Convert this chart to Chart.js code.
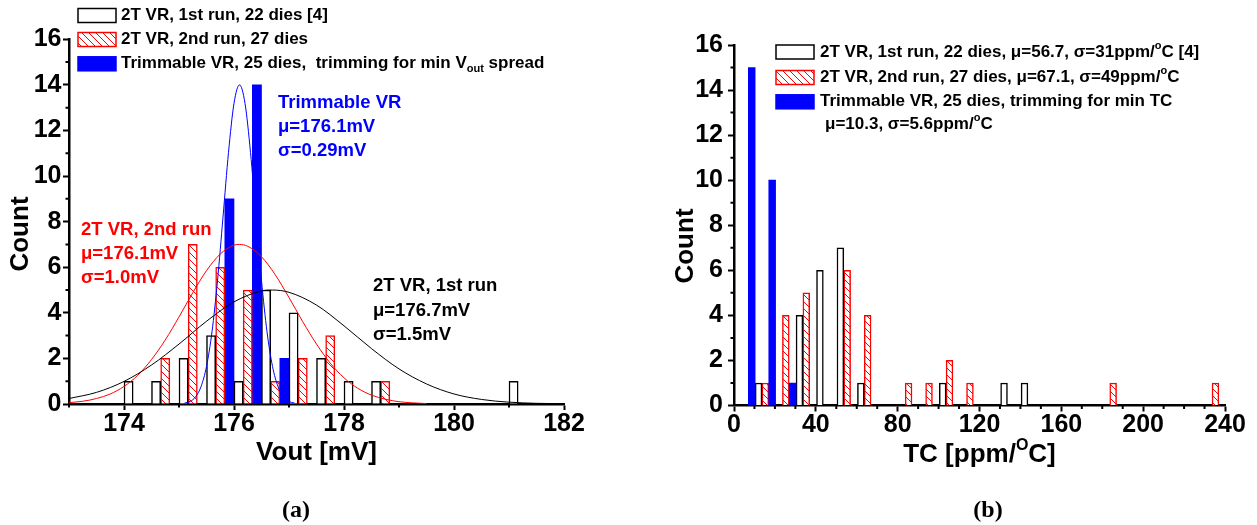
<!DOCTYPE html>
<html>
<head>
<meta charset="utf-8">
<title>Vout and TC histograms</title>
<script src="https://cdn.jsdelivr.net/npm/chart.js@4.4.1/dist/chart.umd.min.js"></script>
<style>
  html, body { margin: 0; padding: 0; background: #fff; }
  #wrap { position: relative; width: 1257px; height: 525px; }
  canvas { position: absolute; top: 0; }
  #chartA { left: 0; }
  #chartB { left: 628px; }
</style>
</head>
<body>
<div id="wrap">
  <canvas id="chartA" width="628" height="525"></canvas>
  <canvas id="chartB" width="629" height="525"></canvas>
</div>
<script>
// (a) Vout histogram, bin centres in mV (0.5 mV bins)
const voutBins = [174.25, 174.75, 175.25, 175.75, 176.25, 176.75, 177.25, 177.75, 178.25, 178.75, 179.25, 179.75, 180.25, 180.75, 181.25];
const voutRun1 = [1, 1, 2, 3, 1, 5, 4, 2, 1, 1, 0, 0, 0, 0, 1];
const voutRun2 = [0, 2, 7, 6, 5, 1, 2, 3, 0, 1, 0, 0, 0, 0, 0];
const voutTrim = [0, 0, 0, 9, 14, 2, 0, 0, 0, 0, 0, 0, 0, 0, 0];

// fitted normal curves
const fit1X = [173, 173.5, 174, 174.5, 175, 175.5, 176, 176.5, 176.7, 177, 177.5, 178, 178.5, 179, 179.5, 180, 180.5, 181, 181.5, 182];
const fit1Y = [0.24, 0.51, 0.99, 1.71, 2.63, 3.63, 4.48, 4.96, 5.00, 4.90, 4.34, 3.43, 2.43, 1.54, 0.88, 0.44, 0.20, 0.08, 0.03, 0.01];
const fit2X = [173, 173.25, 173.5, 173.75, 174, 174.25, 174.5, 174.75, 175, 175.25, 175.5, 175.75, 176, 176.1, 176.25, 176.5, 176.75, 177, 177.25, 177.5, 177.75, 178, 178.25, 178.5, 178.75, 179, 179.25, 179.5];
const fit2Y = [0.06, 0.12, 0.24, 0.44, 0.77, 1.26, 1.95, 2.81, 3.82, 4.88, 5.85, 6.58, 6.97, 7.00, 6.92, 6.46, 5.67, 4.67, 3.61, 2.63, 1.79, 1.15, 0.69, 0.39, 0.21, 0.10, 0.05, 0.02];
const fit3X = [175.1, 175.2, 175.3, 175.4, 175.5, 175.6, 175.7, 175.8, 175.9, 176.0, 176.1, 176.2, 176.3, 176.4, 176.5, 176.6, 176.7, 176.8, 176.9, 177.0, 177.1];
const fit3Y = [0.04, 0.11, 0.31, 0.76, 1.65, 3.17, 5.41, 8.20, 11.04, 13.19, 14.00, 13.19, 11.04, 8.20, 5.41, 3.17, 1.65, 0.76, 0.31, 0.11, 0.04];

// (b) TC histogram, bin centres in ppm/C (10 ppm bins)
const tcBins = [12, 22, 32, 42, 52, 62, 72, 82, 92, 102, 112, 122, 132, 142, 152, 162, 172, 182, 192, 202, 212, 222, 232];
const tcRun1 = [1, 0, 4, 6, 7, 1, 0, 0, 0, 1, 0, 0, 1, 1, 0, 0, 0, 0, 0, 0, 0, 0, 0];
const tcRun2 = [1, 4, 5, 0, 6, 4, 0, 1, 1, 2, 1, 0, 0, 0, 0, 0, 0, 1, 0, 0, 0, 0, 1];
const tcTrim = [15, 10, 1, 0, 0, 0, 0, 0, 0, 0, 0, 0, 0, 0, 0, 0, 0, 0, 0, 0, 0, 0, 0];

// tick labels and minor ticks
const voutTicks = [174, 176, 178, 180, 182];
const voutMinor = [173, 175, 177, 179, 181];
const tcTicks = [0, 40, 80, 120, 160, 200, 240];
const tcMinor = [10, 20, 30, 50, 60, 70, 90, 100, 110, 130, 140, 150, 170, 180, 190, 210, 220, 230];
const countTicks = [0, 2, 4, 6, 8, 10, 12, 14, 16];
const countMinor = [1, 3, 5, 7, 9, 11, 13, 15];

const BLUE = '#0000ff';
const RED = '#ff0000';
const SANS = '"Liberation Sans", Arial, sans-serif';
const bold = px => 'bold ' + px + 'px ' + SANS;

Chart.defaults.font.family = SANS;
Chart.defaults.color = '#000';

// red diagonal hatch for the 2nd run bars
function makeHatch(color) {
    const c = document.createElement('canvas');
    c.width = 7; c.height = 7;
    const g = c.getContext('2d');
    g.fillStyle = '#fff';
    g.fillRect(0, 0, 7, 7);
    g.strokeStyle = color;
    g.lineWidth = 1;
    g.beginPath();
    g.moveTo(-1, -1); g.lineTo(8, 8);
    g.moveTo(6, -1); g.lineTo(8, 1);
    g.moveTo(-1, 6); g.lineTo(1, 8);
    g.stroke();
    return g.createPattern(c, 'repeat');
}
const hatch = makeHatch(RED);

const barPoints = (xs, ys) => xs.map((x, i) => ({x: x, y: ys[i]})).filter(p => p.y > 0);
const curvePoints = (xs, ys) => xs.map((x, i) => ({x: x, y: ys[i]}));

// text with optional sub/superscript pieces: 'text' or ['text', 'sub'|'sup']
function drawRich(ctx, x, y, parts, px, color, align) {
    ctx.save();
    ctx.fillStyle = color;
    ctx.textBaseline = 'middle';
    ctx.textAlign = 'left';
    const small = Math.round(px * 0.62);
    const pieces = parts.map(p => typeof p === 'string'
        ? {t: p, f: bold(px), dy: 0}
        : {t: p[0], f: bold(small), dy: p[1] === 'sub' ? px * 0.3 : -px * 0.38});
    let w = 0;
    pieces.forEach(p => { ctx.font = p.f; p.w = ctx.measureText(p.t).width; w += p.w; });
    let cx = align === 'center' ? x - w / 2 : x;
    pieces.forEach(p => { ctx.font = p.f; ctx.fillText(p.t, cx, y + p.dy); cx += p.w; });
    ctx.restore();
}

function drawSwatch(ctx, x, y, fill, stroke) {
    ctx.save();
    ctx.fillStyle = fill;
    ctx.fillRect(x, y - 7, 38, 14);
    ctx.strokeStyle = stroke;
    ctx.lineWidth = 1.5;
    ctx.strokeRect(x, y - 7, 38, 14);
    ctx.restore();
}

function drawMinorTicks(chart, xVals, yVals) {
    const {ctx, chartArea} = chart;
    const sx = chart.scales.x, sy = chart.scales.y;
    ctx.save();
    ctx.strokeStyle = '#000';
    ctx.lineWidth = 2;
    ctx.beginPath();
    xVals.forEach(v => {
        const p = sx.getPixelForValue(v);
        ctx.moveTo(p, chartArea.bottom); ctx.lineTo(p, chartArea.bottom + 3.5);
    });
    yVals.forEach(v => {
        const p = sy.getPixelForValue(v);
        ctx.moveTo(chartArea.left, p); ctx.lineTo(chartArea.left - 3.5, p);
    });
    ctx.stroke();
    ctx.restore();
}

function drawYTitle(ctx, x, y) {
    ctx.save();
    ctx.translate(x, y);
    ctx.rotate(-Math.PI / 2);
    drawRich(ctx, 0, 0, ['Count'], 26, '#000', 'center');
    ctx.restore();
}

function drawPanelLabel(ctx, text, x, y) {
    ctx.save();
    ctx.font = 'bold 24px "Liberation Serif", "Times New Roman", serif';
    ctx.fillStyle = '#000';
    ctx.textAlign = 'center';
    ctx.textBaseline = 'middle';
    ctx.fillText(text, x, y);
    ctx.restore();
}

function axisOptions(min, max, ticks, yWidth, xHeight, yPad) {
    return {
        x: {
            type: 'linear', min: min, max: max, offset: false,
            afterBuildTicks: s => { s.ticks = ticks.map(v => ({value: v})); },
            afterFit: s => { s.height = xHeight; },
            grid: {offset: false, drawOnChartArea: false, drawTicks: true, tickLength: 6, tickWidth: 2, tickColor: '#000'},
            border: {display: true, color: '#000', width: 2.5},
            ticks: {font: {size: 25, weight: 'bold', lineHeight: 1}, padding: 1.5, maxRotation: 0, color: '#000'}
        },
        y: {
            min: 0, max: 16,
            afterBuildTicks: s => { s.ticks = countTicks.map(v => ({value: v})); },
            afterFit: s => { s.width = yWidth; },
            grid: {drawOnChartArea: false, drawTicks: true, tickLength: 6, tickWidth: 2, tickColor: '#000'},
            border: {display: true, color: '#000', width: 2.5},
            ticks: {font: {size: 25, weight: 'bold'}, padding: yPad, color: '#000'}
        }
    };
}

const commonPlugins = {legend: {display: false}, tooltip: {enabled: false}, title: {display: false}};

// ---------- (a) Vout ----------
const voutDecor = {
    id: 'voutDecor',
    afterDraw(chart) {
        const ctx = chart.ctx;
        const area = chart.chartArea;
        drawMinorTicks(chart, voutMinor, countMinor);

        // legend
        drawSwatch(ctx, 78, 15.5, '#fff', '#000');
        drawRich(ctx, 121, 15.5, ['2T VR, 1st run, 22 dies [4]'], 17, '#000');
        drawSwatch(ctx, 78, 39.5, hatch, RED);
        drawRich(ctx, 121, 39.5, ['2T VR, 2nd run, 27 dies'], 17, '#000');
        drawSwatch(ctx, 78, 63.8, BLUE, BLUE);
        drawRich(ctx, 121, 63.8, ['Trimmable VR, 25 dies,  trimming for min V', ['out', 'sub'], ' spread'], 17, '#000');

        // fit annotations
        [['Trimmable VR', 103], ['\u03bc=176.1mV', 127], ['\u03c3=0.29mV', 151]]
            .forEach(r => drawRich(ctx, 278, r[1], [r[0]], 18.5, BLUE));
        [['2T VR, 2nd run', 230], ['\u03bc=176.1mV', 254], ['\u03c3=1.0mV', 277.5]]
            .forEach(r => drawRich(ctx, 81, r[1], [r[0]], 18.5, RED));
        [['2T VR, 1st run', 286], ['\u03bc=176.7mV', 310.5], ['\u03c3=1.5mV', 335]]
            .forEach(r => drawRich(ctx, 373, r[1], [r[0]], 18.5, '#000'));

        // axis titles
        drawRich(ctx, (area.left + area.right) / 2, 452.5, ['Vout [mV]'], 26, '#000', 'center');
        drawYTitle(ctx, 21, 234);
        drawPanelLabel(ctx, '(a)', 296, 511);
    }
};

new Chart(document.getElementById('chartA'), {
    type: 'bar',
    data: {
        datasets: [
            {type: 'line', data: curvePoints(fit1X, fit1Y), borderColor: '#000', borderWidth: 1, pointRadius: 0, cubicInterpolationMode: 'monotone', order: 0},
            {type: 'line', data: curvePoints(fit2X, fit2Y), borderColor: RED, borderWidth: 1, pointRadius: 0, cubicInterpolationMode: 'monotone', order: 0},
            {type: 'line', data: curvePoints(fit3X, fit3Y), borderColor: BLUE, borderWidth: 1, pointRadius: 0, cubicInterpolationMode: 'monotone', order: 0},
            {label: '2T VR, 1st run, 22 dies [4]', data: barPoints(voutBins, voutRun1), backgroundColor: '#fff', borderColor: '#000', borderWidth: 1.5, order: 1},
            {label: '2T VR, 2nd run, 27 dies', data: barPoints(voutBins, voutRun2), backgroundColor: hatch, borderColor: RED, borderWidth: 1.5, order: 1},
            {label: 'Trimmable VR, 25 dies', data: barPoints(voutBins, voutTrim), backgroundColor: BLUE, borderColor: BLUE, borderWidth: 0, order: 1}
        ]
    },
    options: {
        responsive: false,
        animation: false,
        datasets: {bar: {categoryPercentage: 1, barPercentage: 1}},
        layout: {padding: {top: 39.3, right: 64, bottom: 0, left: 0}},
        scales: axisOptions(173, 182, voutTicks, 69, 121, 1.5),
        plugins: commonPlugins
    },
    plugins: [voutDecor]
});

// ---------- (b) TC ----------
const tcDecor = {
    id: 'tcDecor',
    afterDraw(chart) {
        const ctx = chart.ctx;
        const area = chart.chartArea;
        drawMinorTicks(chart, tcMinor, countMinor);

        // legend
        drawSwatch(ctx, 148, 52, '#fff', '#000');
        drawRich(ctx, 192, 52, ['2T VR, 1st run, 22 dies, \u03bc=56.7, \u03c3=31ppm/', ['o', 'sup'], 'C [4]'], 17, '#000');
        drawSwatch(ctx, 148, 77.5, hatch, RED);
        drawRich(ctx, 192, 77.5, ['2T VR, 2nd run, 27 dies, \u03bc=67.1, \u03c3=49ppm/', ['o', 'sup'], 'C'], 17, '#000');
        drawSwatch(ctx, 148, 101.8, BLUE, BLUE);
        drawRich(ctx, 192, 101.8, ['Trimmable VR, 25 dies, trimming for min TC'], 17, '#000');
        drawRich(ctx, 197, 124, ['\u03bc=10.3, \u03c3=5.6ppm/', ['o', 'sup'], 'C'], 17, '#000');

        // axis titles
        drawRich(ctx, (area.left + area.right) / 2, 455, ['TC [ppm/', ['O', 'sup'], 'C]'], 26, '#000', 'center');
        drawYTitle(ctx, 58, 246);
        drawPanelLabel(ctx, '(b)', 360, 511);
    }
};

new Chart(document.getElementById('chartB'), {
    type: 'bar',
    data: {
        datasets: [
            {label: 'Trimmable VR, 25 dies', data: barPoints(tcBins, tcTrim), backgroundColor: BLUE, borderColor: BLUE, borderWidth: 0},
            {label: '2T VR, 1st run, 22 dies', data: barPoints(tcBins, tcRun1), backgroundColor: '#fff', borderColor: '#000', borderWidth: 1.5},
            {label: '2T VR, 2nd run, 27 dies', data: barPoints(tcBins, tcRun2), backgroundColor: hatch, borderColor: RED, borderWidth: 1.5}
        ]
    },
    options: {
        responsive: false,
        animation: false,
        datasets: {bar: {categoryPercentage: 1, barPercentage: 1}},
        layout: {padding: {top: 45, right: 32, bottom: 0, left: 0}},
        scales: axisOptions(0, 240, tcTicks, 106, 119.5, 5),
        plugins: commonPlugins
    },
    plugins: [tcDecor]
});
</script>
</body>
</html>
